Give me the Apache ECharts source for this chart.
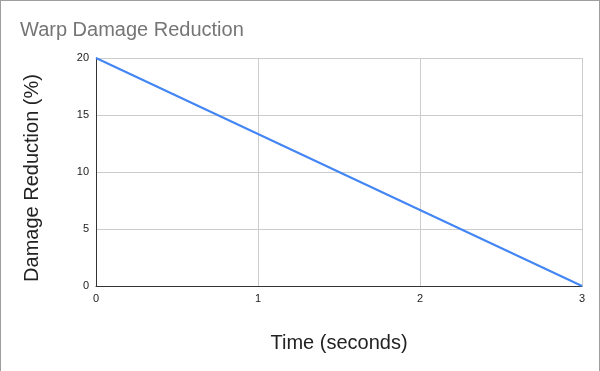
<!DOCTYPE html>
<html><head><meta charset="utf-8">
<script src="https://cdn.jsdelivr.net/npm/echarts@6/dist/echarts.min.js"></script>
<style>
html,body{margin:0;padding:0;background:#fff;}
#c{width:598px;height:370px;border:1px solid #9e9e9e;border-bottom:none;}
</style></head>
<body><div id="c"></div>
<script>
const timeSeconds = [0, 3];
const damageReduction = [20, 0];
const xTicks = [0, 1, 2, 3];
const yTicks = [0, 5, 10, 15, 20];
const titleText = 'Warp Damage Reduction';
const xTitle = 'Time (seconds)';
const yTitle = 'Damage Reduction (%)';

const font = 'Arial, Liberation Sans';
const chart = echarts.init(document.getElementById('c'));
chart.setOption({
  animation: false,
  title: {
    text: titleText, left: 14, top: 14,
    textStyle: {fontFamily: font, fontSize: 20, fontWeight: 'normal', color: '#757575'}
  },
  grid: {left: 95, right: 17, top: 57, bottom: 85},
  xAxis: {
    type: 'value', min: 0, max: 3, interval: 1,
    axisLine: {lineStyle: {color: '#333', width: 1}},
    axisTick: {show: false},
    axisLabel: {fontFamily: font, fontSize: 11, color: '#222', margin: 7},
    splitLine: {show: true, lineStyle: {color: '#cccccc'}}
  },
  yAxis: {
    type: 'value', min: 0, max: 20, interval: 5,
    axisLine: {show: true, lineStyle: {color: '#333', width: 1}},
    axisTick: {show: false},
    axisLabel: {fontFamily: font, fontSize: 11, color: '#222', margin: 7},
    splitLine: {show: true, lineStyle: {color: '#cccccc'}}
  },
  graphic: [
    {type: 'text', x: 338, y: 342, style: {text: xTitle, font: '20px ' + font, fill: '#222', align: 'center', verticalAlign: 'middle'}},
    {type: 'text', x: 31, y: 177, rotation: Math.PI / 2, style: {text: yTitle, font: '20px ' + font, fill: '#222', align: 'center', verticalAlign: 'middle'}}
  ],
  series: [{
    type: 'line',
    data: timeSeconds.map((t, i) => [t, damageReduction[i]]),
    showSymbol: false,
    lineStyle: {color: '#4285f4', width: 2},
    itemStyle: {color: '#4285f4'}
  }]
});
</script></body></html>
